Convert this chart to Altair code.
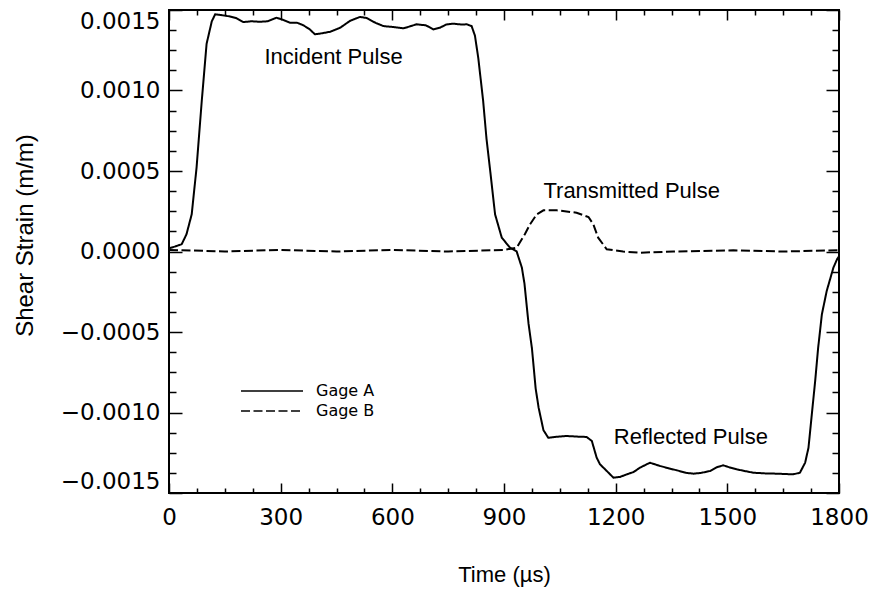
import altair as alt
import pandas as pd

# ---- data ----
gage_a_time = [0, 15, 34, 47, 61, 74, 88, 101, 115, 124, 135, 150, 164, 180, 200, 222, 244, 265, 289, 305,
               325, 345, 361, 378, 392, 410, 433, 460, 486, 513, 531, 555, 576, 600, 630, 665, 690, 710, 728,
               745, 764, 785, 800, 813, 822, 831, 844, 853, 862, 876, 894, 916, 934, 948, 955, 966, 975, 985,
               993, 1006, 1019, 1045, 1068, 1100, 1122, 1136, 1149, 1158, 1176, 1194, 1212, 1230, 1248, 1265,
               1292, 1319, 1340, 1364, 1390, 1409, 1430, 1454, 1472, 1489, 1505, 1525, 1550, 1570, 1600, 1633,
               1655, 1677, 1695, 1709, 1718, 1727, 1736, 1744, 1754, 1767, 1785, 1795, 1800]
gage_a_strain = [0.00002, 0.00003, 0.000045, 0.000107, 0.000231, 0.00052, 0.000935, 0.00129, 0.00143, 0.001473,
                 0.00147, 0.001465, 0.00146, 0.00145, 0.001425, 0.00143, 0.001427, 0.00143, 0.001452, 0.00144,
                 0.001421, 0.00142, 0.001405, 0.00138, 0.001349, 0.001355, 0.001365, 0.00139, 0.001432, 0.001457,
                 0.00145, 0.00142, 0.0014, 0.001395, 0.001386, 0.001411, 0.001405, 0.00138, 0.00139, 0.00141,
                 0.001415, 0.00141, 0.001411, 0.0014, 0.00134, 0.0012, 0.000935, 0.0007, 0.00052, 0.000231,
                 0.000086, 0.000024, 0.0, -0.0001, -0.0002, -0.00045, -0.0006, -0.00085, -0.00097, -0.00111,
                 -0.001157, -0.00115, -0.001146, -0.00115, -0.001152, -0.001177, -0.001281, -0.001322, -0.001363,
                 -0.001405, -0.0014, -0.001384, -0.00137, -0.001343, -0.001312, -0.001332, -0.001345, -0.001359,
                 -0.001375, -0.00138, -0.001375, -0.001363, -0.00134, -0.001328, -0.00134, -0.001353, -0.001365,
                 -0.001374, -0.001378, -0.00138, -0.001382, -0.001384, -0.001374, -0.001312, -0.001219, -0.001011,
                 -0.000804, -0.000598, -0.00039, -0.000245, -0.0001, -0.000047, -0.00003]

gage_b_time = [0, 150, 300, 450, 600, 750, 900, 934, 956, 970, 988, 1006, 1042, 1095, 1127, 1140, 1153, 1176,
               1220, 1265, 1355, 1516, 1650, 1800]
gage_b_strain = [0.00001, 0.0, 0.00001, 0.0, 0.00001, 0.0, 0.00001, 0.000024, 0.000107, 0.000169, 0.000231,
                 0.000256, 0.000256, 0.000241, 0.000214, 0.000169, 0.000086, 0.000014, 0.0, -0.0000075, 0.0,
                 0.0000075, 0.0, 0.0000075]

series_names = ["Gage A", "Gage B"]

x_major_ticks = [0, 300, 600, 900, 1200, 1500, 1800]
x_minor_ticks = [75, 150, 225, 375, 450, 525, 675, 750, 825, 975, 1050, 1125, 1275, 1350, 1425, 1575, 1650, 1725]
y_major_ticks = [-0.0015, -0.0010, -0.0005, 0.0, 0.0005, 0.0010, 0.0015]
y_minor_ticks = [-0.001375, -0.00125, -0.001125, -0.000875, -0.00075, -0.000625, -0.000375, -0.00025,
                 -0.000125, 0.000125, 0.00025, 0.000375, 0.000625, 0.00075, 0.000875, 0.001125, 0.00125,
                 0.001375]

ann_labels = ["Incident Pulse", "Transmitted Pulse", "Reflected Pulse"]
ann_time = [442, 1243, 1402]
ann_strain = [0.001163, 0.000334, -0.001197]

# ---- build tables ----
data = pd.DataFrame({
    "t": gage_a_time + gage_b_time,
    "v": gage_a_strain + gage_b_strain,
    "gage": [series_names[0]] * len(gage_a_time) + [series_names[1]] * len(gage_b_time),
})
ann = pd.DataFrame({"t": ann_time, "v": ann_strain, "label": ann_labels})

W, H = 670, 483
xscale = alt.Scale(domain=[0, 1800], nice=False, zero=False)
yscale = alt.Scale(domain=[-0.0015, 0.0015], nice=False, zero=False)

TICK = dict(domain=False, grid=False, tickColor="black", tickWidth=1.5, ticks=True)


def tick_axis(orient, values, size):
    return alt.Axis(orient=orient, values=values, tickSize=size, offset=-size,
                    labels=False, title=None, **TICK)


x_label_axis = alt.Axis(
    orient="bottom", values=x_major_ticks, tickSize=10, offset=-10, format="d",
    labelFont="DejaVu Sans", labelFontSize=23, labelColor="black", labelPadding=13,
    labelFlush=False, labelOverlap=False,
    title="Time (µs)", titleFont="Liberation Sans", titleFontSize=22, titleFontWeight="normal",
    titleColor="black", titleY=98, titleBaseline="alphabetic", **TICK)

y_label_axis = alt.Axis(
    orient="left", values=y_major_ticks, tickSize=13, offset=-13, format=".4f",
    labelFont="DejaVu Sans", labelFontSize=23, labelColor="black", labelPadding=9,
    labelFlush=True, labelFlushOffset=0, labelOverlap=False,
    title="Shear Strain (m/m)", titleFont="Liberation Sans", titleFontSize=24, titleFontWeight="normal",
    titleColor="black", titleAngle=270, titleX=-157, titleY=225, titleAlign="center",
    titleBaseline="middle", **TICK)

lines = alt.Chart(data).mark_line(color="black", strokeWidth=2, clip=True).encode(
    x=alt.X("t:Q", scale=xscale, axis=x_label_axis),
    y=alt.Y("v:Q", scale=yscale, axis=y_label_axis),
    strokeDash=alt.StrokeDash(
        "gage:N",
        scale=alt.Scale(domain=series_names, range=[[1, 0], [9, 3.5]]),
        legend=alt.Legend(
            title=None, orient="none", legendX=71, legendY=371, padding=0,
            symbolType="stroke", symbolSize=3844, symbolStrokeWidth=1.6, symbolStrokeColor="black",
            labelFont="DejaVu Sans", labelFontSize=16, labelColor="black", labelOffset=12,
            clipHeight=20, rowPadding=0,
        ),
    ),
)

minor_bl = alt.Chart(data).mark_point(opacity=0).encode(
    x=alt.X("t:Q", scale=xscale, axis=tick_axis("bottom", x_minor_ticks, 5)),
    y=alt.Y("v:Q", scale=yscale, axis=tick_axis("left", y_minor_ticks, 7)),
)
major_tr = alt.Chart(data).mark_point(opacity=0).encode(
    x=alt.X("t:Q", scale=xscale, axis=tick_axis("top", x_major_ticks, 10)),
    y=alt.Y("v:Q", scale=yscale, axis=tick_axis("right", y_major_ticks, 13)),
)
minor_tr = alt.Chart(data).mark_point(opacity=0).encode(
    x=alt.X("t:Q", scale=xscale, axis=tick_axis("top", x_minor_ticks, 5)),
    y=alt.Y("v:Q", scale=yscale, axis=tick_axis("right", y_minor_ticks, 7)),
)

texts = alt.Chart(ann).mark_text(
    font="Liberation Sans", fontSize=22, align="center", baseline="alphabetic", color="black"
).encode(
    x=alt.X("t:Q", scale=xscale, axis=None),
    y=alt.Y("v:Q", scale=yscale, axis=None),
    text="label:N",
)

chart = (
    alt.layer(lines, minor_bl, major_tr, minor_tr, texts)
    .resolve_axis(x="independent", y="independent")
    .properties(
        width=W, height=H,
        padding={"left": 169, "top": 10, "right": 32, "bottom": 96},
        autosize=alt.AutoSizeParams(type="none"),
        background="white",
    )
    .configure_view(stroke="black", strokeWidth=2)
)

chart.save("out.html", embed_options={"renderer": "svg", "actions": False})
